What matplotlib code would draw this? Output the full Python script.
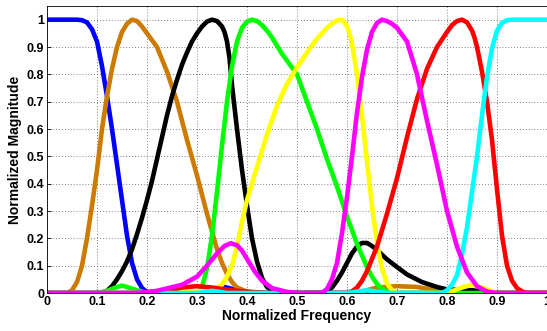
import matplotlib
matplotlib.use("Agg")
import matplotlib.pyplot as plt

# filter responses (x = normalized frequency)
blue_x = [0, 0.06, 0.07, 0.08, 0.09, 0.1, 0.11, 0.12, 0.13, 0.14, 0.15, 0.16, 0.17, 0.18, 0.19,
          0.2, 0.21, 0.3, 0.33, 0.35, 0.37, 0.4, 0.45, 0.62, 0.66, 0.68, 0.7, 1]
blue_y = [1, 1, 0.998, 0.99, 0.965, 0.92, 0.83, 0.72, 0.6, 0.47, 0.34, 0.21, 0.11, 0.05, 0.018,
          0.004, 0, 0, 0.01, 0.025, 0.015, 0.003, 0, 0, 0.01, 0.005, 0, 0]

orange_x = [0, 0.04, 0.05, 0.06, 0.07, 0.08, 0.09, 0.1, 0.11, 0.12, 0.13, 0.14, 0.15, 0.16,
            0.17, 0.18, 0.19, 0.2, 0.21, 0.22, 0.24, 0.26, 0.28, 0.3, 0.32, 0.34, 0.35, 0.36,
            0.37, 0.38, 0.4, 0.42, 0.6, 0.63, 0.66, 0.7, 0.74, 0.78, 0.8, 1]
orange_y = [0, 0, 0.01, 0.04, 0.1, 0.2, 0.32, 0.45, 0.6, 0.72, 0.82, 0.9, 0.955, 0.985,
            1, 0.995, 0.975, 0.95, 0.925, 0.9, 0.81, 0.7, 0.56, 0.43, 0.29, 0.16, 0.11, 0.07,
            0.04, 0.02, 0.005, 0, 0, 0.005, 0.02, 0.025, 0.022, 0.01, 0, 0]

black_x = [0, 0.11, 0.12, 0.13, 0.14, 0.15, 0.16, 0.17, 0.18, 0.19, 0.2, 0.21, 0.22, 0.23, 0.24,
           0.25, 0.26, 0.27, 0.28, 0.29, 0.3, 0.31, 0.32, 0.33, 0.34, 0.35, 0.355, 0.36, 0.365,
           0.37, 0.38, 0.39, 0.4, 0.41, 0.42, 0.43, 0.44, 0.45, 0.46, 0.55, 0.56, 0.57, 0.58,
           0.59, 0.6, 0.61, 0.62, 0.63, 0.64, 0.65, 0.66, 0.67, 0.68, 0.7, 0.72, 0.75, 0.78,
           0.8, 0.85, 0.88, 0.9, 1]
black_y = [0, 0, 0.008, 0.025, 0.05, 0.08, 0.115, 0.16, 0.215, 0.275, 0.34, 0.41, 0.49, 0.57,
           0.65, 0.72, 0.78, 0.835, 0.88, 0.92, 0.95, 0.975, 0.993, 1, 0.995, 0.975, 0.955,
           0.92, 0.86, 0.76, 0.6, 0.45, 0.32, 0.2, 0.115, 0.055, 0.022, 0.008, 0, 0, 0.006,
           0.02, 0.045, 0.075, 0.11, 0.145, 0.17, 0.183, 0.183, 0.172, 0.157, 0.14, 0.123,
           0.095, 0.068, 0.04, 0.022, 0.013, 0.01, 0.005, 0, 0]

green_x = [0, 0.1, 0.12, 0.14, 0.15, 0.16, 0.18, 0.2, 0.3, 0.31, 0.32, 0.33, 0.34, 0.35, 0.36,
           0.37, 0.38, 0.39, 0.4, 0.41, 0.42, 0.43, 0.44, 0.45, 0.47, 0.5, 0.52, 0.54, 0.56,
           0.58, 0.6, 0.62, 0.64, 0.65, 0.66, 0.67, 0.68, 0.7, 1]
green_y = [0, 0, 0.008, 0.022, 0.027, 0.022, 0.01, 0, 0, 0.02, 0.09, 0.21, 0.37, 0.54, 0.7,
           0.83, 0.92, 0.97, 0.993, 1, 0.995, 0.98, 0.96, 0.935, 0.875, 0.8, 0.7, 0.6, 0.49,
           0.39, 0.28, 0.18, 0.095, 0.06, 0.033, 0.015, 0.005, 0, 0]

yellow_x = [0, 0.2, 0.25, 0.3, 0.33, 0.35, 0.36, 0.37, 0.38, 0.39, 0.4, 0.42, 0.44, 0.46, 0.48,
            0.5, 0.52, 0.54, 0.56, 0.57, 0.58, 0.59, 0.595, 0.6, 0.605, 0.61, 0.62, 0.63, 0.64,
            0.65, 0.66, 0.67, 0.68, 0.69, 0.7, 0.8, 0.83, 0.85, 0.87, 0.9, 1]
yellow_y = [0, 0, 0.005, 0.005, 0.01, 0.03, 0.06, 0.1, 0.17, 0.26, 0.34, 0.46, 0.58, 0.685, 0.765,
            0.825, 0.88, 0.93, 0.97, 0.985, 0.997, 1, 0.99, 0.975, 0.95, 0.91, 0.8, 0.65, 0.48,
            0.32, 0.18, 0.09, 0.035, 0.01, 0, 0, 0.02, 0.03, 0.02, 0, 0]

red_x = [0, 0.2, 0.24, 0.27, 0.3, 0.33, 0.36, 0.4, 0.44, 0.6, 0.61, 0.62, 0.63, 0.64, 0.66,
         0.68, 0.7, 0.72, 0.74, 0.76, 0.78, 0.8, 0.81, 0.82, 0.83, 0.84, 0.85, 0.855, 0.86,
         0.87, 0.88, 0.89, 0.9, 0.91, 0.92, 0.93, 0.94, 0.95, 0.96, 1]
red_y = [0, 0, 0.008, 0.02, 0.025, 0.02, 0.012, 0.005, 0, 0, 0.006, 0.02, 0.045, 0.08, 0.17,
         0.29, 0.42, 0.57, 0.71, 0.82, 0.9, 0.955, 0.98, 0.995, 1, 0.99, 0.96, 0.935, 0.9,
         0.81, 0.7, 0.56, 0.38, 0.21, 0.1, 0.045, 0.018, 0.006, 0, 0]

cyan_x = [0, 0.3, 0.33, 0.36, 0.6, 0.64, 0.68, 0.79, 0.8, 0.81, 0.82, 0.83, 0.84, 0.85, 0.86,
          0.87, 0.88, 0.89, 0.9, 0.91, 0.92, 0.93, 1]
cyan_y = [0, 0, 0.008, 0, 0, 0.01, 0, 0, 0.01, 0.03, 0.065, 0.14, 0.24, 0.37, 0.5,
          0.65, 0.79, 0.895, 0.96, 0.988, 0.998, 1, 1]

magenta_x = [0, 0.18, 0.22, 0.27, 0.3, 0.32, 0.34, 0.355, 0.367, 0.38, 0.39, 0.4, 0.415, 0.43,
             0.45, 0.48, 0.5, 0.55, 0.56, 0.57, 0.58, 0.59, 0.6, 0.61, 0.62, 0.63, 0.64, 0.65,
             0.66, 0.67, 0.68, 0.69, 0.7, 0.72, 0.74, 0.76, 0.78, 0.8, 0.82, 0.84, 0.86, 0.88,
             0.9, 1]
magenta_y = [0, 0, 0.008, 0.03, 0.06, 0.1, 0.145, 0.172, 0.182, 0.175, 0.155, 0.125, 0.08, 0.045,
             0.018, 0.004, 0, 0, 0.015, 0.05, 0.11, 0.22, 0.35, 0.5, 0.66, 0.79, 0.89, 0.955,
             0.988, 1, 0.995, 0.985, 0.97, 0.92, 0.8, 0.63, 0.47, 0.3, 0.17, 0.075, 0.025, 0.005,
             0, 0]

series = [
    (blue_x, blue_y, "#0000ff"),
    (orange_x, orange_y, "#cc7a00"),
    (black_x, black_y, "#000000"),
    (green_x, green_y, "#00ff00"),
    (yellow_x, yellow_y, "#ffff00"),
    (red_x, red_y, "#ff0000"),
    (cyan_x, cyan_y, "#00ffff"),
    (magenta_x, magenta_y, "#ff00ff"),
]

ticks = [i / 10 for i in range(11)]
tick_labels = ["0", "0.1", "0.2", "0.3", "0.4", "0.5", "0.6", "0.7", "0.8", "0.9", "1"]

plt.rcParams['font.family'] = ['Liberation Sans', 'DejaVu Sans']

fig = plt.figure(figsize=(5.47, 3.31), dpi=100)
ax = fig.add_axes([47 / 547, 38 / 331, 500 / 547, 287 / 331])

for xs, ys, c in series:
    ax.plot(xs, ys, color=c, lw=3.3, solid_joinstyle='round', solid_capstyle='round')

ax.set_xlim(0, 1)
ax.set_ylim(0, 1.05)
ax.set_xticks(ticks)
ax.set_xticklabels(tick_labels, fontweight='bold', fontsize=9)
ax.set_yticks(ticks)
ax.set_yticklabels(tick_labels, fontweight='bold', fontsize=9)
ax.tick_params(direction='in', length=3, width=0.6, pad=2)
ax.grid(True, linestyle=(0, (1, 2.5)), color='#555555', lw=0.6)
ax.spines['right'].set_visible(False)
for s in ['top', 'left', 'bottom']:
    ax.spines[s].set_linewidth(0.6)

ax.set_xlabel('Normalized Frequency', fontweight='bold', fontsize=10, labelpad=1)
ax.set_ylabel('Normalized Magnitude', fontweight='bold', fontsize=10, labelpad=3)

fig.savefig('out.png', dpi=100)
